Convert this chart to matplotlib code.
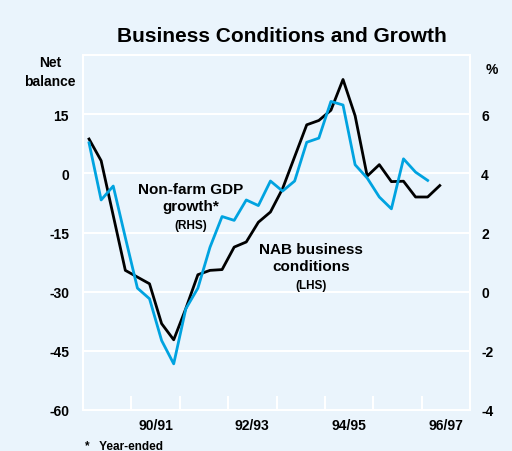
import numpy as np
import matplotlib.pyplot as plt

plt.rcParams['font.family'] = ['Liberation Sans', 'DejaVu Sans']
plt.rcParams['font.weight'] = 'bold'

# Quarterly data, Sep quarter 1989 onwards
start = 1989.625
nab = [8.7, 3.2, -10.7, -24.6, -26.3, -28.0, -38.1, -42.2, -34.3, -25.7,
       -24.6, -24.4, -18.7, -17.4, -12.4, -9.8, -3.9, 4.2, 12.3, 13.4,
       16.0, 23.8, 14.6, -0.7, 2.2, -2.1, -2.0, -6.0, -6.0, -3.1]
gdp = [5.03, 3.10, 3.57, 1.83, 0.12, -0.24, -1.65, -2.44, -0.58, 0.12,
       1.50, 2.54, 2.41, 3.10, 2.91, 3.74, 3.40, 3.74, 5.05, 5.19,
       6.43, 6.31, 4.29, 3.84, 3.20, 2.80, 4.49, 4.04, 3.76]

left_ticks = [15, 0, -15, -30, -45, -60]
right_ticks = [6, 4, 2, 0, -2, -4]
year_labels = ['90/91', '92/93', '94/95', '96/97']

t_nab = start + 0.25 * np.arange(len(nab))
t_gdp = start + 0.25 * np.arange(len(gdp))

bg = '#eaf4fc'
fig = plt.figure(figsize=(5.12, 4.52), dpi=100, facecolor=bg)
ax = fig.add_axes([83/512, 1 - 411/452, 387/512, 355/452])
ax.set_facecolor(bg)
ax2 = ax.twinx()

ax.set_xlim(1989.5, 1997.5)
ax.set_ylim(-60, 30)
ax2.set_ylim(-4, 8)

for v in [-45, -30, -15, 0, 15]:
    ax.axhline(v, color='white', lw=1.5, zorder=1)
for s in ax.spines.values():
    s.set_color('white')
    s.set_linewidth(1.5)
for s in ax2.spines.values():
    s.set_visible(False)

ax.plot(t_nab, nab, color='black', lw=2, zorder=3)
ax2.plot(t_gdp, gdp, color='#00a3e0', lw=2, zorder=3)

ax.set_yticks(left_ticks)
ax.set_yticklabels([str(v) for v in left_ticks], fontsize=10, fontweight='bold')
ax2.set_yticks(right_ticks)
ax2.set_yticklabels([str(v) for v in right_ticks], fontsize=10, fontweight='bold')
ax.tick_params(axis='y', length=0, pad=10)
ax2.tick_params(axis='y', length=0, pad=8)

ax.set_xticks(np.arange(1990.5, 1997.0, 1.0))
ax.set_xticklabels([])
ax.tick_params(axis='x', which='major', direction='in', length=10, width=1.5,
               color='white')
ax.set_xticks([1991.0, 1993.0, 1995.0, 1997.0], minor=True)
ax.set_xticklabels(year_labels, minor=True, fontsize=10, fontweight='bold')
ax.tick_params(axis='x', which='minor', length=0, pad=6)

fig.text(282/512, 1 - 37/452, 'Business Conditions and Growth', ha='center',
         va='center', fontsize=15, fontweight='bold')
fig.text(50/512, 1 - 63/452, 'Net', ha='center', va='center',
         fontsize=10, fontweight='bold')
fig.text(50/512, 1 - 82/452, 'balance', ha='center', va='center',
         fontsize=10, fontweight='bold')
fig.text(492/512, 1 - 70/452, '%', ha='center', va='center', fontsize=10,
         fontweight='bold')
fig.text(85/512, 1 - 447/452, '*   Year-ended', ha='left', va='center',
         fontsize=8.5, fontweight='bold')

ax.text(1991.73, -6.1, 'Non-farm GDP\ngrowth*', ha='center', va='center',
        fontsize=11, fontweight='bold', linespacing=1.3)
ax.text(1991.73, -13.2, '(RHS)', ha='center', va='center', fontsize=8.5,
        fontweight='bold')
ax.text(1994.22, -21.3, 'NAB business\nconditions', ha='center', va='center',
        fontsize=11, fontweight='bold', linespacing=1.3)
ax.text(1994.22, -28.3, '(LHS)', ha='center', va='center', fontsize=8.5,
        fontweight='bold')

plt.savefig('out.png', dpi=100, facecolor=bg)
